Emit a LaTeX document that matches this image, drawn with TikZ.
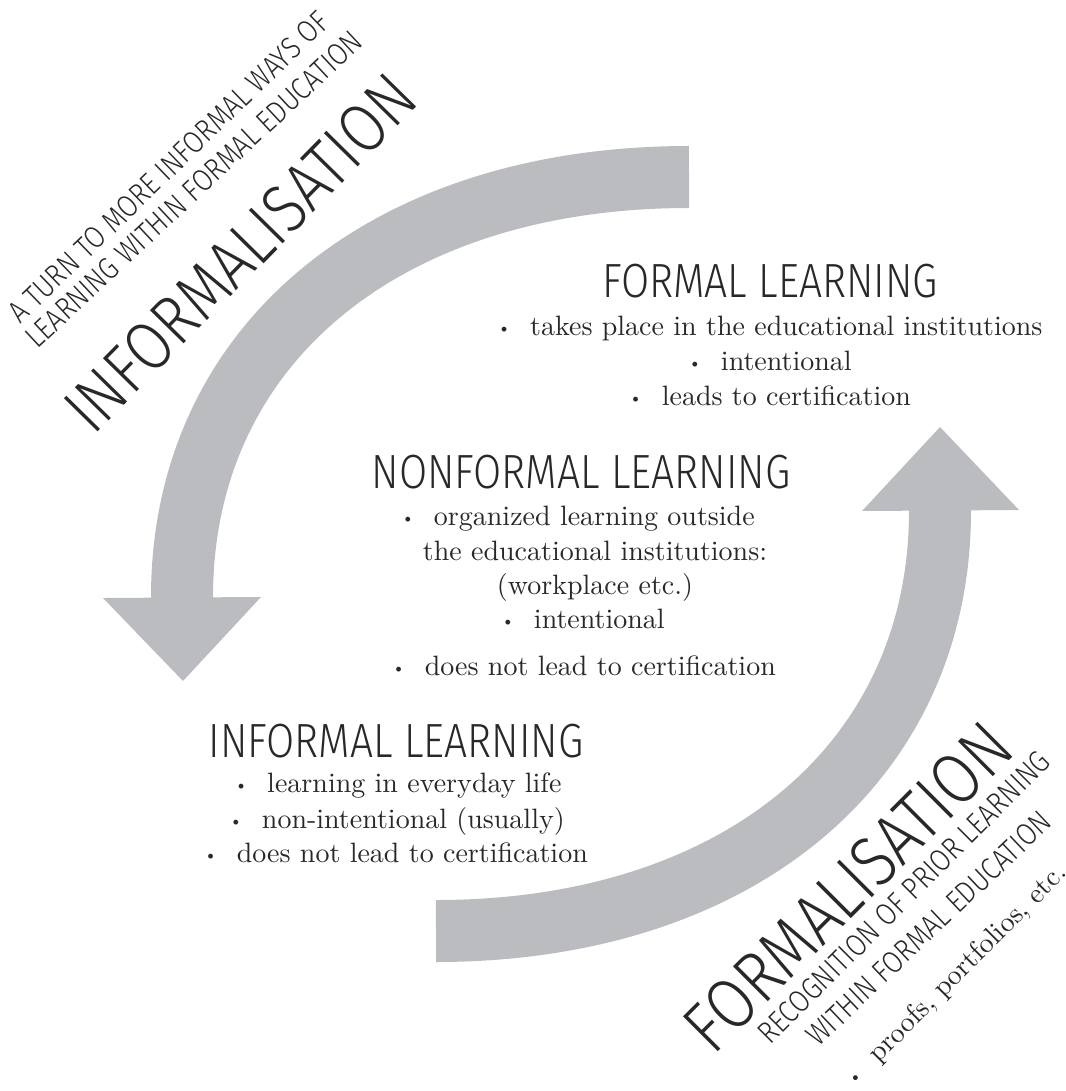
\documentclass[tikz,border=0pt]{standalone}
\usepackage{fontspec}
\usepackage{graphicx}
\setmainfont{lmroman10-regular.otf}
\newfontfamily\headfont{Fira Sans Light}[FakeStretch=0.85]
\definecolor{arrowgray}{RGB}{186,188,191}
\definecolor{inkgray}{RGB}{40,40,40}
\newcommand{\bul}{\raisebox{2pt}{\scalebox{0.6}{\textbullet}}\hspace{0.7em}}
\tikzset{>=stealth,
  band/.style={draw=arrowgray, line width=62pt},
  headtext/.style={font=\headfont\fontsize{48}{56}\selectfont, text=inkgray, inner sep=0pt, anchor=base},
  itemtext/.style={font=\fontsize{28}{34}\selectfont, text=inkgray, inner sep=0pt, anchor=base},
  slanttext/.style={font=\headfont\fontsize{31}{36}\selectfont, text=inkgray, inner sep=0pt, anchor=base west},
  bigslant/.style={font=\headfont\fontsize{69}{74}\selectfont, text=inkgray, inner sep=0pt, anchor=base west}}

\begin{document}
\begin{tikzpicture}[x=1pt, y=-1pt]
\useasboundingbox (0,0) rectangle (1065,1091);
\coordinate (T1) at (689,177);
\coordinate (C1) at (385,177);
\coordinate (C2) at (182,345);
\coordinate (H1) at (182,597);
\coordinate (H1l) at (103,598);
\coordinate (H1r) at (261,597);
\coordinate (P1) at (183,681);
\coordinate (T2) at (436,931);
\coordinate (C3) at (738,931);
\coordinate (C4) at (940,763);
\coordinate (H2) at (940,511);
\coordinate (H2l) at (862,511);
\coordinate (H2r) at (1019,510);
\coordinate (P2) at (940,427);
\draw[band] (T1) .. controls (C1) and (C2) .. (H1) -- ++(0,12);
\fill[arrowgray] (H1l) -- (H1r) -- (P1) -- cycle;
\draw[band] (T2) .. controls (C3) and (C4) .. (H2) -- ++(0,-12);
\fill[arrowgray] (H2l) -- (H2r) -- (P2) -- cycle;

\node (formal) at (770,297) [headtext] {FORMAL LEARNING};
\node (formal1) at (770,335) [itemtext] {\bul takes place in the educational institutions};
\node (formal2) at (770,370) [itemtext] {\bul intentional};
\node (formal3) at (770,405) [itemtext] {\bul leads to certification};

\node (nonformal) at (581,488) [headtext] {NONFORMAL LEARNING};
\node (nonformal1) at (578,525) [itemtext] {\bul organized learning outside};
\node (nonformal2) at (595,560) [itemtext] {the educational institutions:};
\node (nonformal3) at (595,594) [itemtext] {(workplace etc.)};
\node (nonformal4) at (583,628) [itemtext] {\bul intentional};
\node (nonformal5) at (584,675) [itemtext] {\bul does not lead to certification};

\node (informal) at (396,757) [headtext] {INFORMAL LEARNING};
\node (informal1) at (398,792) [itemtext] {\bul learning in everyday life};
\node (informal2) at (397,828) [itemtext] {\bul non-intentional (usually)};
\node (informal3) at (396,862) [itemtext] {\bul does not lead to certification};

\node (turn1) at (20,325) [slanttext, rotate=44] {A TURN TO MORE INFORMAL WAYS OF};
\node (turn2) at (37,350) [slanttext, rotate=43] {LEARNING WITHIN FORMAL EDUCATION};
\node (informalisation) at (93,437) [bigslant, rotate=45.5] {INFORMALISATION};

\node (formalisation) at (713,1057) [bigslant, font=\headfont\fontsize{72}{76}\selectfont, rotate=45] {FORMALISATION};
\node (recog1) at (770,1046) [slanttext, rotate=45] {RECOGNITION OF PRIOR LEARNING};
\node (recog2) at (818,1048) [slanttext, rotate=43.5] {WITHIN FORMAL EDUCATION};
\node (proofs) at (855,1087) [itemtext, anchor=base west, rotate=45] {\bul proofs, portfolios, etc.};
\end{tikzpicture}
\end{document}
